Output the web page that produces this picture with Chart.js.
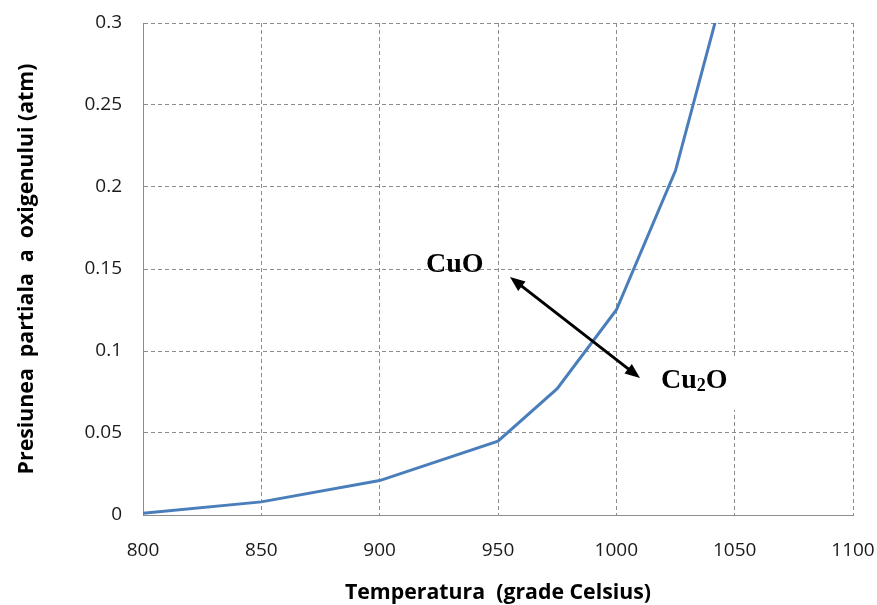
<!DOCTYPE html>
<html>
<head>
<meta charset="utf-8">
<script src="https://cdn.jsdelivr.net/npm/chart.js@4.4.1/dist/chart.umd.min.js"></script>
<style>
  html, body { margin: 0; padding: 0; background: #fff; }
  #wrap { width: 877px; height: 605px; }
</style>
</head>
<body>
<div id="wrap"><canvas id="chart" width="877" height="605"></canvas></div>
<script>
// temperature (grade Celsius) and oxygen partial pressure (atm)
const temps = [800, 850, 900, 950, 975, 1000, 1025, 1050];
const pressure = [0.001, 0.008, 0.021, 0.045, 0.077, 0.125, 0.21, 0.345];

const xTicks = [800, 850, 900, 950, 1000, 1050, 1100];
const yTicks = [0, 0.05, 0.1, 0.15, 0.2, 0.25, 0.3];

const xTitle = 'Temperatura  (grade Celsius)';
const yTitle = 'Presiunea  partiala  a  oxigenului (atm)';

const gridColor = '#8c8c8c';
const tickFont = { family: 'Open Sans', size: 19 };

// axis titles + CuO / Cu2O labels with the double arrow
const extras = {
  id: 'extras',
  afterDraw(chart) {
    const ctx = chart.ctx;
    const area = chart.chartArea;
    ctx.save();
    ctx.fillStyle = '#000';
    ctx.font = 'bold 21.3px "Open Sans"';
    ctx.textAlign = 'center';
    ctx.textBaseline = 'middle';
    ctx.fillText(xTitle, (area.left + area.right) / 2, 593);
    ctx.save();
    ctx.translate(27, (area.top + area.bottom) / 2);
    ctx.rotate(-Math.PI / 2);
    ctx.fillText(yTitle, 0, 0);
    ctx.restore();

    // white box behind Cu2O (hides part of the 1050 grid line)
    ctx.fillStyle = '#fff';
    ctx.fillRect(652, 356, 86, 54);

    // double arrow
    const x1 = 510, y1 = 277, x2 = 640, y2 = 378;
    const ang = Math.atan2(y2 - y1, x2 - x1);
    const head = 15, half = 6;
    ctx.strokeStyle = '#000';
    ctx.fillStyle = '#000';
    ctx.lineWidth = 3;
    ctx.beginPath();
    ctx.moveTo(x1 + Math.cos(ang) * head * 0.8, y1 + Math.sin(ang) * head * 0.8);
    ctx.lineTo(x2 - Math.cos(ang) * head * 0.8, y2 - Math.sin(ang) * head * 0.8);
    ctx.stroke();
    const drawHead = (px, py, a) => {
      ctx.beginPath();
      ctx.moveTo(px, py);
      ctx.lineTo(px - Math.cos(a) * head - Math.sin(a) * half, py - Math.sin(a) * head + Math.cos(a) * half);
      ctx.lineTo(px - Math.cos(a) * head + Math.sin(a) * half, py - Math.sin(a) * head - Math.cos(a) * half);
      ctx.closePath();
      ctx.fill();
    };
    drawHead(x2, y2, ang);
    drawHead(x1, y1, ang + Math.PI);

    ctx.fillStyle = '#000';
    ctx.textAlign = 'left';
    ctx.textBaseline = 'alphabetic';
    ctx.font = 'bold 28px "Liberation Serif"';
    ctx.fillText('CuO', 426, 272);
    ctx.fillText('Cu', 661, 388);
    let w = ctx.measureText('Cu').width;
    ctx.font = 'bold 18px "Liberation Serif"';
    ctx.fillText('2', 661 + w, 391);
    const w2 = ctx.measureText('2').width;
    ctx.font = 'bold 28px "Liberation Serif"';
    ctx.fillText('O', 661 + w + w2, 388);
    ctx.restore();
  }
};

// drop the label-overflow padding so layout.padding alone places the plot
const noPad = (axis) => {
  axis.paddingTop = 0;
  axis.paddingBottom = 0;
  axis.paddingLeft = 0;
  axis.paddingRight = 0;
};

new Chart(document.getElementById('chart'), {
  type: 'line',
  data: {
    datasets: [{
      data: temps.map((t, i) => ({ x: t, y: pressure[i] })),
      borderColor: '#4a7ebb',
      borderWidth: 3,
      pointRadius: 0,
      tension: 0,
      fill: false
    }]
  },
  options: {
    responsive: false,
    animation: false,
    layout: { padding: { top: 23, right: 24, left: 0, bottom: 0 } },
    plugins: { legend: { display: false }, tooltip: { enabled: false } },
    scales: {
      x: {
        type: 'linear',
        min: 800,
        max: 1100,
        afterBuildTicks: (axis) => { axis.ticks = xTicks.map(v => ({ value: v })); },
        afterFit: (axis) => { axis.height = 90; noPad(axis); },
        grid: { color: gridColor, lineWidth: 1, drawTicks: false },
        border: { display: true, color: gridColor, width: 1, dash: [4, 3] },
        ticks: { font: tickFont, color: '#1a1a1a', padding: 24, maxRotation: 0, callback: (v) => String(v) }
      },
      y: {
        min: 0,
        max: 0.3,
        afterBuildTicks: (axis) => { axis.ticks = yTicks.map(v => ({ value: v })); },
        afterFit: (axis) => { axis.width = 143; noPad(axis); },
        grid: { color: gridColor, lineWidth: 1, drawTicks: false },
        border: { display: true, color: gridColor, width: 1, dash: [4, 3] },
        ticks: {
          font: tickFont,
          color: '#1a1a1a',
          padding: 21,
          callback: (v) => String(Number(v.toFixed(2)))
        }
      }
    }
  },
  plugins: [extras]
});
</script>
</body>
</html>
